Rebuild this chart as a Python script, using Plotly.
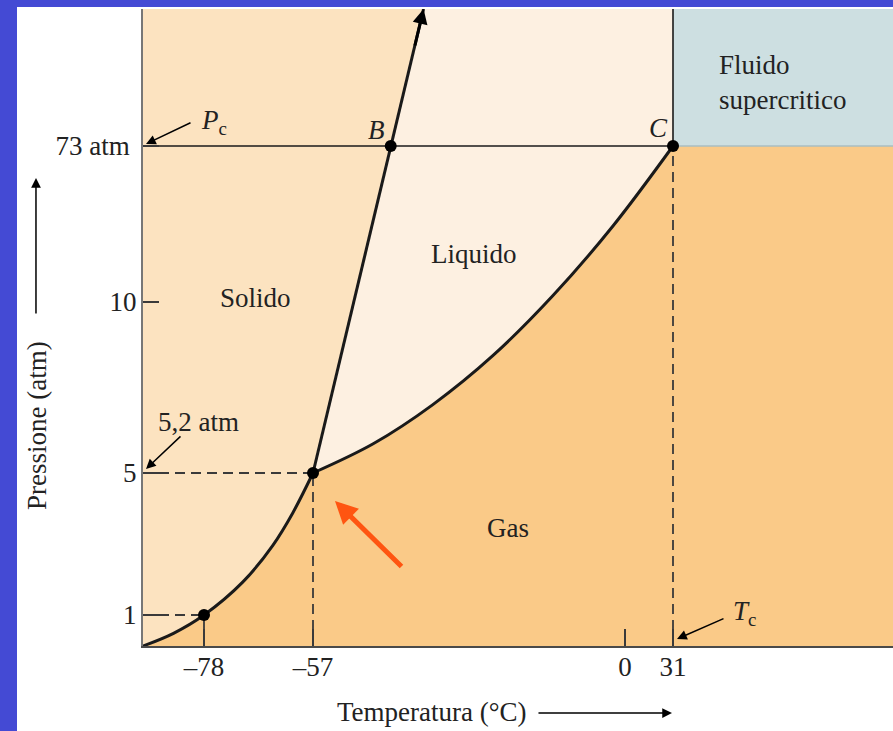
import numpy as np
import plotly.graph_objects as go

# ---- Axis labels (temperature in °C, pressure in atm) ----
T_TICKS = [-78, -57, 0, 31]
T_TICKTEXT = ["–78", "–57", "0", "31"]
P_TICKS = [1, 5.2, 10, 73]
P_TICKTEXT = ["1", "5", "10", "73 atm\u00a0"]

# ---- Characteristic points of CO2 ----
T_SUBLIM, P_SUBLIM = -78, 1       # sublimation at 1 atm
T_TRIPLE, P_TRIPLE = -57, 5.2     # triple point
T_CRIT, P_CRIT = 31, 73           # critical point C
T_B = -42.8                       # melting curve at 73 atm (point B)

# ---- Phase boundaries ----
SUB_T = [-90, -84, -78, -70.5, -64.7, -60.9, -57]
SUB_P = [0, 0.41, 1, 1.98, 3.07, 4.02, 5.2]
VAP_T = [-57, -46.0, -35.1, -24.1, -13.2, -2.2, 31]
VAP_P = [5.2, 6.02, 7.12, 8.50, 12.5, 40.7, 73]
MELT_T = [-57, -42.8, -36.8]
MELT_P = [5.2, 73, 128]

# The diagram is schematic (not to scale): piecewise-linear axis mapping
T_SCALE = [-90, -78, -57, 0, 31, 173]
X_SCALE = [0, 61, 170, 482, 530, 750]
P_SCALE = [0, 1, 5.2, 10, 73, 128]
Y_SCALE = [0, 31, 173, 344, 500, 637]


def sx(t):
    return np.interp(t, T_SCALE, X_SCALE)


def sy(p):
    return np.interp(p, P_SCALE, Y_SCALE)


T_MIN, T_MAX = T_SCALE[0], T_SCALE[-1]
P_MIN, P_MAX = P_SCALE[0], P_SCALE[-1]

SOLID = "#FCE3C0"
LIQUID = "#FDF0E1"
GAS = "#FACA88"
SUPER = "#CDDFE1"
BLUE = "#444AD4"
INK = "#1a1a1a"
TEXT = "#222222"
FONT = "Liberation Serif"
FS = 27

fig = go.Figure()


def poly(ts, ps, color):
    fig.add_trace(go.Scatter(
        x=sx(np.array(ts, float)), y=sy(np.array(ps, float)),
        mode="lines", fill="toself", fillcolor=color,
        line=dict(width=0, color=color), hoverinfo="skip"))


# Solid region: left of the melting line, above the sublimation curve
poly(SUB_T + MELT_T[1:] + [T_MIN],
     SUB_P + MELT_P[1:] + [P_MAX], SOLID)
# Liquid region
poly(MELT_T + [T_CRIT] + VAP_T[::-1][:-1],
     MELT_P + [P_MAX] + VAP_P[::-1][:-1], LIQUID)
# Supercritical fluid
poly([T_CRIT, T_CRIT, T_MAX, T_MAX], [P_CRIT, P_MAX, P_MAX, P_CRIT], SUPER)

# Edge between gas and supercritical fluid
fig.add_trace(go.Scatter(x=sx(np.array([T_CRIT, T_MAX])), y=sy(np.array([P_CRIT, P_CRIT])),
                         mode="lines", line=dict(color="#A9BEC2", width=1.5),
                         hoverinfo="skip"))

# Dashed reference lines
dx = [T_MIN, T_SUBLIM, None, T_SUBLIM, T_SUBLIM, None,
      T_MIN, T_TRIPLE, None, T_TRIPLE, T_TRIPLE, None, T_CRIT, T_CRIT]
dy = [P_SUBLIM, P_SUBLIM, None, P_MIN, P_SUBLIM, None,
      P_TRIPLE, P_TRIPLE, None, P_MIN, P_TRIPLE, None, P_MIN, P_CRIT]
fig.add_trace(go.Scatter(
    x=[None if v is None else float(sx(v)) for v in dx],
    y=[None if v is None else float(sy(v)) for v in dy],
    mode="lines", line=dict(color="#3a3a3a", width=1.8, dash="10px,6px"),
    hoverinfo="skip"))

# Critical pressure line and critical temperature line
fig.add_trace(go.Scatter(
    x=[float(sx(T_MIN)), float(sx(T_CRIT)), None, float(sx(T_CRIT)), float(sx(T_CRIT))],
    y=[float(sy(P_CRIT)), float(sy(P_CRIT)), None, float(sy(P_CRIT)), float(sy(P_MAX))],
    mode="lines", line=dict(color=INK, width=1.6), hoverinfo="skip"))

# Phase boundaries
fig.add_trace(go.Scatter(x=sx(np.array(SUB_T)), y=sy(np.array(SUB_P)), mode="lines",
                         line=dict(color=INK, width=3, shape="spline"), hoverinfo="skip"))
fig.add_trace(go.Scatter(x=sx(np.array(VAP_T)), y=sy(np.array(VAP_P)), mode="lines",
                         line=dict(color=INK, width=3, shape="spline"), hoverinfo="skip"))
fig.add_trace(go.Scatter(x=sx(np.array(MELT_T)), y=sy(np.array(MELT_P)), mode="lines",
                         line=dict(color=INK, width=3), hoverinfo="skip"))

# Marked points
pts_t = [T_SUBLIM, T_TRIPLE, T_B, T_CRIT]
pts_p = [P_SUBLIM, P_TRIPLE, P_CRIT, P_CRIT]
fig.add_trace(go.Scatter(x=sx(np.array(pts_t)), y=sy(np.array(pts_p)), mode="markers",
                         marker=dict(color="black", size=12), hoverinfo="skip"))

ann = []


def label(x, y, text, size=FS, **kw):
    ann.append(dict(x=x, y=y, xref="x", yref="y", text=text, showarrow=False,
                    font=dict(family=FONT, size=size, color=TEXT), **kw))


def arrow(x, y, ax, ay, color="black", width=1.5, size=1.3, head=2, **kw):
    d = dict(x=x, y=y, ax=ax, ay=ay, text="", showarrow=True, arrowhead=head,
             arrowsize=size, arrowwidth=width, arrowcolor=color, standoff=0,
             startstandoff=0)
    d.update(kw)
    d.setdefault("xref", "x")
    d.setdefault("yref", "y")
    ann.append(d)


# Region names
label(112, 348, "Solido")
label(331, 392, "Liquido")
label(365, 118, "Gas")
label(574, 564, "Fluido<br>supercritico", xanchor="left", align="left")

# Point names
label(sx(T_B) - 14, sy(P_CRIT) + 16, "<i>B</i>")
label(sx(T_CRIT) - 15, sy(P_CRIT) + 18, "<i>C</i>")

# Critical pressure / temperature and triple-point pressure callouts
label(71, 524, "<i>P</i><sub>c</sub>")
arrow(3, sy(P_CRIT) + 2, 46, -22)
label(55, 224, "5,2 atm")
arrow(3, sy(P_TRIPLE) + 4, 36, -34)
label(601, 33, "<i>T</i><sub>c</sub>")
arrow(sx(T_CRIT) + 4, 7, 48, -21)

# Arrowhead at the upper end of the melting curve
arrow(sx(MELT_T[-1]), sy(MELT_P[-1]), -9, 38, width=3, size=1)

# Orange pointer to the triple point
arrow(sx(T_TRIPLE), sy(P_TRIPLE), 68, 67, color="#FF5511", width=5, size=0.9,
      xshift=22, yshift=-28)

# Axis titles with their direction arrows
ann.append(dict(x=-0.1413, y=0.3454, xref="paper", yref="paper", text="Pressione (atm)",
                xanchor="center", yanchor="middle", textangle=-90, showarrow=False,
                font=dict(family=FONT, size=FS, color=TEXT)))
ann.append(dict(x=-0.1427, y=0.7347, xref="paper", yref="paper", text="", showarrow=True,
                ax=0, ay=137, arrowhead=2, arrowsize=1.3, arrowwidth=1.5,
                arrowcolor="black", standoff=0))
ann.append(dict(x=0.3853, y=-0.1036, xref="paper", yref="paper", text="Temperatura (°C)",
                xanchor="center", yanchor="middle", showarrow=False,
                font=dict(family=FONT, size=FS, color=TEXT)))
ann.append(dict(x=0.7053, y=-0.1052, xref="paper", yref="paper", text="", showarrow=True,
                ax=-135, ay=0, arrowhead=2, arrowsize=1.3, arrowwidth=1.5,
                arrowcolor="black", standoff=0))

# Blue frame along the left and top edges of the page
shapes = [
    dict(type="rect", xref="paper", yref="paper", x0=-0.1907, x1=-0.168,
         y0=-0.1334, y1=1.0141, fillcolor=BLUE, line=dict(width=0), layer="above"),
    dict(type="rect", xref="paper", yref="paper", x0=-0.1907, x1=1.0,
         y0=1.0031, y1=1.0141, fillcolor=BLUE, line=dict(width=0), layer="above"),
]

fig.update_layout(
    width=893, height=731,
    margin=dict(l=143, r=0, t=9, b=85),
    paper_bgcolor="white",
    plot_bgcolor=GAS,
    showlegend=False,
    font=dict(family=FONT, size=FS, color=TEXT),
    annotations=ann,
    shapes=shapes,
    xaxis=dict(range=[0, 750], tickmode="array",
               tickvals=[float(sx(t)) for t in T_TICKS], ticktext=T_TICKTEXT,
               ticks="inside", ticklen=17, tickwidth=1.5, tickcolor="#3a3a3a",
               showgrid=False, zeroline=False, showline=True, linecolor="#4a4a4a",
               linewidth=2, fixedrange=True, ticklabelstandoff=-4),
    yaxis=dict(range=[0, 637], tickmode="array",
               tickvals=[float(sy(p)) for p in P_TICKS], ticktext=P_TICKTEXT,
               ticks="inside", ticklen=16, tickwidth=1.5, tickcolor="#3a3a3a",
               showgrid=False, zeroline=False, showline=True, linecolor="#777777",
               linewidth=2, fixedrange=True, ticklabelstandoff=-1),
)

fig.write_html("out.html")
